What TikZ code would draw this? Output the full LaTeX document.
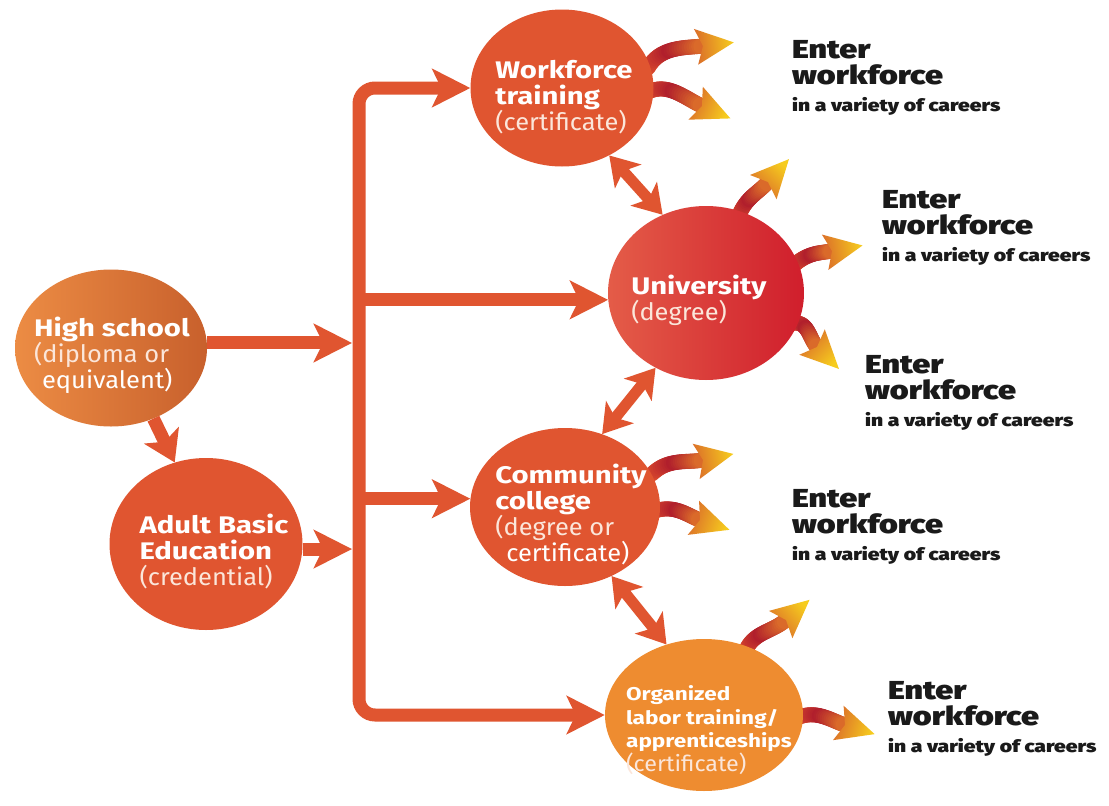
\documentclass[tikz,border=0pt]{standalone}
\usepackage{fontspec}
\setmainfont{Fira Sans}[UprightFeatures={FakeStretch=1.06}, BoldFeatures={FakeStretch=1.22}]
\newfontfamily\heavyfont{Fira Sans Black}[FakeStretch=1.24]
\usetikzlibrary{arrows.meta,shapes.geometric,calc}
\definecolor{orng}{HTML}{E05530}
\definecolor{orgl}{HTML}{EE8C30}
\definecolor{hsL}{HTML}{EC8C44}
\definecolor{hsR}{HTML}{C8602C}
\definecolor{uL}{HTML}{E45C48}
\definecolor{uR}{HTML}{D01E2C}
\definecolor{ga}{HTML}{D9492E}
\definecolor{gb}{HTML}{B01E2C}
\definecolor{gc}{HTML}{DA6A2A}
\definecolor{gd}{HTML}{F6CC1E}
\definecolor{lt}{HTML}{FBE6DA}
\definecolor{inkc}{HTML}{1A1A1A}
\tikzset{
  circ/.style={ellipse, inner sep=0pt, draw=none},
  ctext/.style={align=left, text=white, inner sep=0pt, font=\fontsize{24}{26}\selectfont},
  ctextsm/.style={align=left, text=white, inner sep=0pt, font=\fontsize{18.5}{23.5}\selectfont},
  mainln/.style={draw=orng, line width=13pt},
  bigtip/.tip={Stealth[length=38pt,width=38pt,inset=9pt]},
  midtip/.tip={Stealth[length=30pt,width=38pt,inset=7pt]},
  dbltip/.tip={Stealth[length=28pt,width=35pt,inset=7pt]},
  dbl/.style={draw=orng, line width=11pt, {dbltip}-{dbltip}},
  entA/.style={inner sep=0pt, anchor=base west, text=inkc, font=\heavyfont\fontsize{26}{26}\selectfont},
  entB/.style={inner sep=0pt, anchor=base west, text=inkc, font=\heavyfont\fontsize{17}{17}\selectfont},
}
\newcommand\garrow[5]{%
  \foreach \i in {0,...,24}{%
    \pgfmathsetmacro\pz{\i/24}%
    \path (#1) .. controls (#2) and (#3) .. (#4) coordinate[pos=\pz] (#5-\i);
  }%
  \foreach \i in {0,...,23}{%
    \pgfmathtruncatemacro\j{\i+1}%
    \pgfmathsetmacro\gt{\i/23}%
    \ifdim\gt pt<0.45pt
      \pgfmathsetmacro\pp{min(100,\gt/0.45*100)}%
      \colorlet{segc}{gb!\pp!ga}%
    \else
      \pgfmathsetmacro\pp{min(100,(\gt-0.45)/0.55*100)}%
      \colorlet{segc}{gc!\pp!gb}%
    \fi
    \draw[line width=15pt, line cap=round, draw=segc] (#5-\i) -- (#5-\j);
  }%
  \coordinate (#5-e) at (#4);
  \coordinate (#5-tip) at ($(#4)!-31pt!(#3)$);
  \coordinate (#5-bk) at ($(#4)!7pt!(#3)$);
  \coordinate (#5-b1) at ($(#5-bk)!18pt!90:(#5-tip)$);
  \coordinate (#5-b2) at ($(#5-bk)!18pt!-90:(#5-tip)$);
  \path let \p1=($(#5-tip)-(#5-e)$) in \pgfextra{\pgfmathsetmacro\gang{atan2(\y1,\x1)-90}\global\let\gang\gang};
  \path[shade, bottom color=gc, top color=gd, shading angle=\gang] (#5-tip) -- (#5-b1) -- (#5-e) -- (#5-b2) -- cycle;
}
\newcommand\enterlbl[3]{%
  \node[entA] (#1a) at (#2,#3) {Enter};
  \node[entA] (#1b) at (#2,#3+26) {workforce};
  \node[entB] (#1c) at (#2,#3+53) {in a variety of careers};
}
\begin{document}
\begin{tikzpicture}[x=1pt,y=-1pt]
\useasboundingbox (0,0) rectangle (1109,806);
\fill[white] (0,0) rectangle (1109,806);

% outgoing gradient arrows
\garrow{648,68}{660,46}{686,48}{703,46}{ga1}
\garrow{648,92}{668,82}{686,99}{702,106}{ga2}
\garrow{738,218}{745,198}{757,194}{768,182}{gu1}
\garrow{793,266}{808,252}{821,253}{832,251}{gu2}
\garrow{790,324}{808,318}{809,339}{817,347}{gu3}
\garrow{652,474}{668,458}{688,463}{703,460}{gc1}
\garrow{652,512}{674,503}{688,516}{700,520}{gc2}
\garrow{746,650}{754,632}{772,632}{786,620}{go1}
\garrow{797,718}{816,709}{832,721}{845,725}{go2}

% circles
\node[circ, minimum width=192pt, minimum height=157pt, left color=hsL, right color=hsR] (hs) at (111,348) {};
\node[circ, minimum width=193pt, minimum height=172pt, fill=orng] (ab) at (206,544) {};
\node[circ, minimum width=183pt, minimum height=157pt, fill=orng] (wf) at (562,88) {};
\node[circ, minimum width=196pt, minimum height=174pt, left color=uL, right color=uR] (un) at (706,293) {};
\node[circ, minimum width=190pt, minimum height=158pt, fill=orng] (cc) at (565,507) {};
\node[circ, minimum width=198pt, minimum height=152pt, fill=orgl] (ol) at (704,715) {};

% bus
\coordinate (bus) at (359,400);
\coordinate (busL) at (352,400);
\draw[mainln, {bigtip}-{bigtip}, rounded corners=16pt] (wf.west) -| (bus) |- (ol.west);
\draw[mainln, -{bigtip}] (bus |- un.184) -- (un.184);
\draw[mainln, -{bigtip}] (bus |- cc.175) -- (cc.175);
\draw[mainln, -{bigtip}] (hs.3) -- (hs.3 -| busL);
\draw[mainln, -{bigtip}] (ab.357) -- (ab.357 -| busL);
\draw[mainln, -{midtip}] (hs.301) -- (ab.111);

% double arrows
\draw[dbl] (wf.305) -- (un.119);
\draw[dbl] (un.236) -- (cc.63);
\draw[dbl] (cc.304) -- (ol.118);

% circle texts
\node[ctext] (hs-t) at (112,355) {\textbf{High school}\\\color{lt}(diploma or\\\hspace*{8pt}equivalent)};
\node[ctext] (ab-t) at (214,552) {\textbf{Adult Basic}\\\textbf{Education}\\\color{lt}(credential)};
\node[ctext] (wf-t) at (564,97) {\textbf{Workforce}\\\textbf{training}\\\color{lt}(certificate)};
\node[ctext] (un-t) at (699,300) {\textbf{University}\\\color{lt}(degree)};
\node[ctext] (cc-t) at (571,515) {\textbf{Community}\\\textbf{college}\\\color{lt}(degree or\\\hspace*{11pt}certificate)};
\node[ctextsm] (ol-t) at (709,730) {\textbf{Organized}\\\textbf{labor training/}\\\textbf{apprenticeships}\\\color{lt}\fontsize{22}{24}\selectfont(certificate)};

% enter labels
\enterlbl{e1}{792}{58}
\enterlbl{e2}{882}{208}
\enterlbl{e3}{865}{373}
\enterlbl{e4}{792}{507}
\enterlbl{e5}{888}{699}
\end{tikzpicture}
\end{document}
